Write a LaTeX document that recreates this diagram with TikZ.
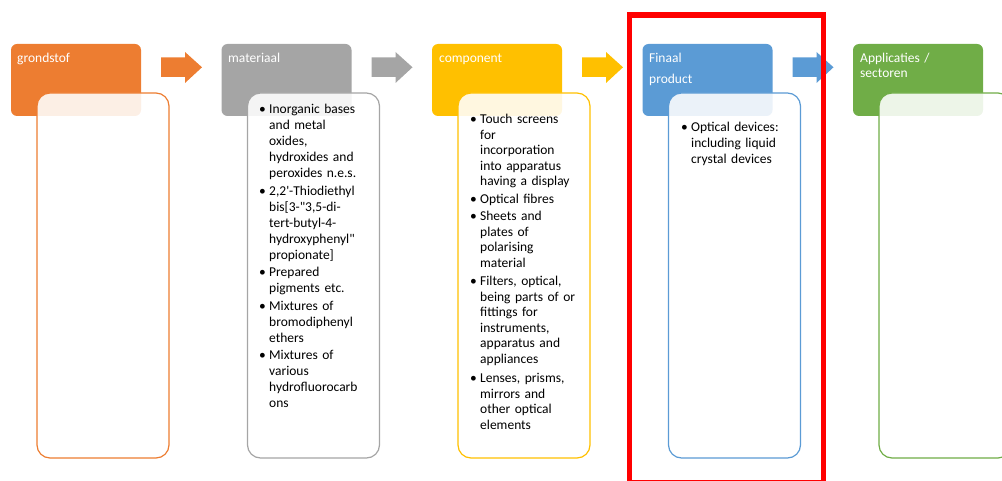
\documentclass[tikz,border=0pt]{standalone}
\usepackage{fontspec}
\setmainfont{Carlito}[Ligatures=TeXOff]
\definecolor{corange}{HTML}{ED7D31}
\definecolor{cgray}{HTML}{A5A5A5}
\definecolor{cgold}{HTML}{FFC000}
\definecolor{cblue}{HTML}{5B9BD5}
\definecolor{cgreen}{HTML}{70AD47}
\definecolor{cred}{HTML}{FF0000}
\newcommand{\bitem}[1]{\noindent\llap{\makebox[10pt][l]{•}}#1\par}
\tikzset{
  hdr/.style={rectangle, rounded corners=6pt, minimum width=130pt, minimum height=72pt, inner sep=0pt, draw=none},
  hdrtxt/.style={anchor=base west, inner sep=0pt, text width=120pt, align=left, text=white, font=\fontsize{13.5}{16}\selectfont},
  cbox/.style={rectangle, rounded corners=13pt, minimum width=132pt, minimum height=365pt, inner sep=0pt, line width=1.2pt, fill=white, fill opacity=0.88},
  ctxt/.style={anchor=base west, inner sep=0pt, text width=125pt, align=left, text=black}
}
\begin{document}
\begin{tikzpicture}[x=1pt,y=-1pt]
\useasboundingbox (0,0) rectangle (1002,481);
% headers
\node[hdr, fill=corange] (h1) at (76,80) {};
\node[hdr, fill=cgray]   (h2) at (286.5,80) {};
\node[hdr, fill=cgold]   (h3) at (497,80) {};
\node[hdr, fill=cblue]   (h4) at (707.5,80) {};
\node[hdr, fill=cgreen]  (h5) at (918,80) {};
\node[hdrtxt] (h1t) at (17,63) {grondstof};
\node[hdrtxt] (h2t) at (228,63) {materiaal};
\node[hdrtxt] (h3t) at (439,63) {component};
\node[hdrtxt, font=\fontsize{13.5}{21}\selectfont] (h4t) at (649,63) {Finaal\\product};
\node[hdrtxt, font=\fontsize{13.5}{15}\selectfont] (h5t) at (860,63) {Applicaties /\\sectoren};
% content boxes
\node[cbox, draw=corange] (c1) at (103,275.5) {};
\node[cbox, draw=cgray]   (c2) at (313.5,275.5) {};
\node[cbox, draw=cgold]   (c3) at (524,275.5) {};
\node[cbox, draw=cblue]   (c4) at (734.5,275.5) {};
\node[cbox, draw=cgreen]  (c5) at (945,275.5) {};
% texts
\node[ctxt, font=\fontsize{13.5}{16}\selectfont] (t2) at (269,114) {%
\bitem{Inorganic bases\\and metal\\oxides,\\hydroxides and\\peroxides n.e.s.}\vspace{1.5pt}
\bitem{2,2'-Thiodiethyl\\bis[3-"3,5-di-\\tert-butyl-4-\\hydroxyphenyl"\\propionate]}\vspace{1.5pt}
\bitem{Prepared\\pigments etc.}\vspace{1.5pt}
\bitem{Mixtures of\\bromodiphenyl\\ethers}\vspace{1.5pt}
\bitem{Mixtures of\\various\\hydrofluorocarb\\ons}};
\node[ctxt, font=\fontsize{13.5}{15.5}\selectfont] (t3) at (480,124) {%
\bitem{Touch screens\\for\\incorporation\\into apparatus\\having a display}\vspace{2pt}
\bitem{Optical fibres}\vspace{2pt}
\bitem{Sheets and\\plates of\\polarising\\material}\vspace{3pt}
\bitem{Filters, optical,\\being parts of or\\fittings for\\instruments,\\apparatus and\\appliances}\vspace{4pt}
\bitem{Lenses, prisms,\\mirrors and\\other optical\\elements}};
\node[ctxt, font=\fontsize{13.5}{16}\selectfont] (t4) at (691,132) {%
\bitem{Optical devices:\\including liquid\\crystal devices}};
% block arrows
\foreach \x/\c in {161/corange, 371.5/cgray, 582/cgold, 792.5/cblue}{
  \fill[\c] (\x,57.5) -- (\x+24,57.5) -- (\x+24,52) -- (\x+41,67.3) -- (\x+24,83) -- (\x+24,77) -- (\x,77) -- cycle;
}
% highlight frame
\draw[cred, line width=5.5pt] (629.5,15) rectangle (823.5,482.5);
\end{tikzpicture}
\end{document}
